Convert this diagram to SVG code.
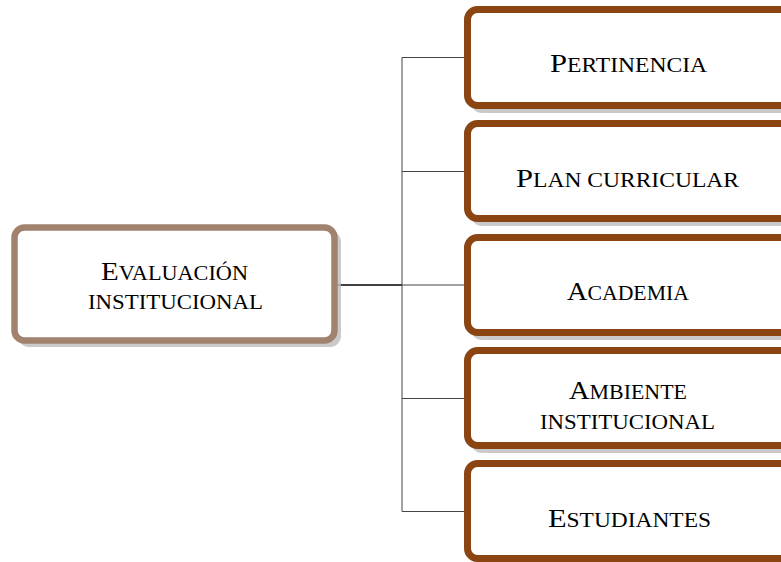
<svg xmlns="http://www.w3.org/2000/svg" width="781" height="562" viewBox="0 0 781 562">
<style>
.t{font-family:"Liberation Serif","DejaVu Serif",serif;font-size:20px;fill:#000;text-anchor:middle}
.B{font-size:26px}
.sh{fill:#bdbdbd;opacity:0.8}
.root{fill:#fff;stroke:#A0826E;stroke-width:6.5}
.leaf{fill:#fff;stroke:#8B4513;stroke-width:7}
.c{fill:none;stroke:#444;stroke-width:1}
</style>
<rect width="781" height="562" fill="#fff"/>
<g id="connectors">
<line x1="338" y1="285" x2="402" y2="285" stroke="#000" stroke-width="1.6"/>
<line class="c" x1="402" y1="57.5" x2="402" y2="511.5"/>
<line class="c" x1="402" y1="57.5" x2="466" y2="57.5"/>
<line class="c" x1="402" y1="171.5" x2="466" y2="171.5"/>
<line class="c" x1="402" y1="285" x2="466" y2="285"/>
<line class="c" x1="402" y1="398.5" x2="466" y2="398.5"/>
<line class="c" x1="402" y1="511.5" x2="466" y2="511.5"/>
</g>
<g id="n0">
<rect class="sh" x="18" y="231" width="323" height="116" rx="11"/>
<rect class="root" x="14.5" y="227.5" width="320" height="113" rx="10"/>
<text class="t" x="174.5" y="279.5" textLength="147" lengthAdjust="spacingAndGlyphs"><tspan class="B">E</tspan>VALUACIÓN</text>
<text class="t" x="175.5" y="308.5" textLength="175" lengthAdjust="spacingAndGlyphs">INSTITUCIONAL</text>
</g>
<g id="n1">
<rect class="sh" x="471" y="12" width="330" height="101" rx="11"/>
<rect class="leaf" x="467.5" y="9.5" width="326" height="96" rx="10"/>
<text class="t" x="628.5" y="72" textLength="157" lengthAdjust="spacingAndGlyphs"><tspan class="B">P</tspan>ERTINENCIA</text>
</g>
<g id="n2">
<rect class="sh" x="471" y="126" width="330" height="100" rx="11"/>
<rect class="leaf" x="467.5" y="123.5" width="326" height="95" rx="10"/>
<text class="t" x="627.5" y="186.5" textLength="223" lengthAdjust="spacingAndGlyphs"><tspan class="B">P</tspan>LAN CURRICULAR</text>
</g>
<g id="n3">
<rect class="sh" x="471" y="240" width="330" height="100" rx="11"/>
<rect class="leaf" x="467.5" y="237.5" width="326" height="95" rx="10"/>
<text class="t" x="628" y="300" textLength="122" lengthAdjust="spacingAndGlyphs"><tspan class="B">A</tspan>CADEMIA</text>
</g>
<g id="n4">
<rect class="sh" x="471" y="353" width="330" height="100" rx="11"/>
<rect class="leaf" x="467.5" y="350.5" width="326" height="95" rx="10"/>
<text class="t" x="628" y="399" textLength="118" lengthAdjust="spacingAndGlyphs"><tspan class="B">A</tspan>MBIENTE</text>
<text class="t" x="627.5" y="429" textLength="175" lengthAdjust="spacingAndGlyphs">INSTITUCIONAL</text>
</g>
<g id="n5">
<rect class="sh" x="471" y="466" width="330" height="100" rx="11"/>
<rect class="leaf" x="467.5" y="463.5" width="326" height="95" rx="10"/>
<text class="t" x="629.5" y="526.5" textLength="163" lengthAdjust="spacingAndGlyphs"><tspan class="B">E</tspan>STUDIANTES</text>
</g>
</svg>
